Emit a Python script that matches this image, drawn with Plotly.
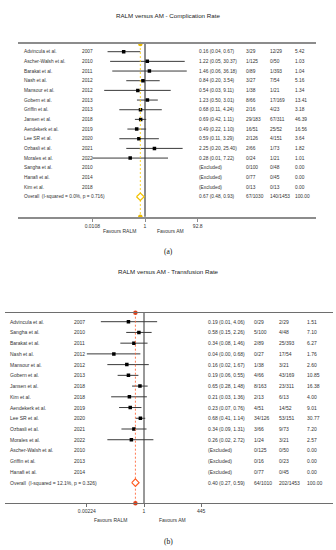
import math
import plotly.graph_objects as go

W, H = 336, 550

# ---------------- Panel (a): Complication rate ----------------
a_title = "RALM versus AM - Complication Rate"
a_study = ["Advincula et al.", "Ascher-Walsh et al.", "Barakat et al.", "Nash et al.",
           "Mansour et al.", "Gobern et al.", "Griffin et al.", "Jansen et al.",
           "Aendekerk et al.", "Lee SR et al.", "Ozbasli et al.", "Morales et al.",
           "Sangha et al.", "Hanafi et al.", "Kim et al."]
a_year = ["2007", "2010", "2011", "2012", "2012", "2013", "2013", "2018",
          "2019", "2020", "2021", "2022", "2010", "2014", "2018"]
a_or = [0.16, 1.22, 1.46, 0.84, 0.54, 1.23, 0.68, 0.69, 0.49, 0.59, 2.25, 0.28, None, None, None]
a_lo = [0.04, 0.05, 0.06, 0.20, 0.03, 0.50, 0.11, 0.42, 0.22, 0.11, 0.20, 0.0108, None, None, None]
a_hi = [0.67, 30.37, 36.18, 3.54, 9.11, 3.01, 4.24, 1.11, 1.10, 3.29, 25.40, 7.22, None, None, None]
a_ev_ralm = ["3/29", "1/125", "0/89", "3/27", "1/38", "8/66", "2/16", "29/183",
             "16/51", "2/126", "2/66", "0/24", "0/100", "0/77", "0/13"]
a_ev_am = ["12/29", "0/50", "1/393", "7/54", "1/21", "17/169", "4/23", "67/311",
           "25/52", "4/151", "1/73", "1/21", "0/48", "0/45", "0/13"]
a_weight = [5.42, 1.03, 1.04, 5.16, 1.34, 13.41, 3.18, 46.39, 16.56, 3.64, 1.82, 1.01, 0.00, 0.00, 0.00]
a_ov_label = "Overall  (I-squared = 0.0%, p = 0.716)"
a_ov_or, a_ov_lo, a_ov_hi = 0.67, 0.48, 0.93
a_ov_ev_ralm, a_ov_ev_am, a_ov_weight = "67/1030", "140/1453", 100.00
a_tickvals = [0.0108, 1, 92.8]
a_ticktext = ["0.0108", "1", "92.8"]

# ---------------- Panel (b): Transfusion rate ----------------
b_title = "RALM versus AM - Transfusion Rate"
b_study = ["Advincula et al.", "Sangha et al.", "Barakat et al.", "Nash et al.",
           "Mansour et al.", "Gobern et al.", "Jansen et al.", "Kim et al.",
           "Aendekerk et al.", "Lee SR et al.", "Ozbasli et al.", "Morales et al.",
           "Ascher-Walsh et al.", "Griffin et al.", "Hanafi et al."]
b_year = ["2007", "2010", "2011", "2012", "2012", "2013", "2018", "2018",
          "2019", "2020", "2021", "2022", "2010", "2013", "2014"]
b_or = [0.19, 0.58, 0.34, 0.04, 0.16, 0.19, 0.65, 0.21, 0.23, 0.68, 0.34, 0.26, None, None, None]
b_lo = [0.01, 0.15, 0.08, 0.00224, 0.02, 0.06, 0.28, 0.03, 0.07, 0.41, 0.09, 0.02, None, None, None]
b_hi = [4.06, 2.26, 1.46, 0.68, 1.67, 0.55, 1.48, 1.36, 0.76, 1.14, 1.31, 2.72, None, None, None]
b_ev_ralm = ["0/29", "5/100", "2/89", "0/27", "1/38", "4/66", "8/163", "2/13",
             "4/51", "34/126", "3/66", "1/24", "0/125", "0/16", "0/77"]
b_ev_am = ["2/29", "4/48", "25/393", "17/54", "3/21", "43/169", "23/311", "6/13",
           "14/52", "53/151", "9/73", "3/21", "0/50", "0/23", "0/45"]
b_weight = [1.51, 7.10, 6.27, 1.76, 2.60, 10.85, 16.38, 4.00, 9.01, 30.77, 7.20, 2.57, 0.00, 0.00, 0.00]
b_ov_label = "Overall  (I-squared = 12.1%, p = 0.326)"
b_ov_or, b_ov_lo, b_ov_hi = 0.40, 0.27, 0.59
b_ov_ev_ralm, b_ov_ev_am, b_ov_weight = "64/1010", "202/1453", 100.00
b_tickvals = [0.00224, 1, 445]
b_ticktext = ["0.00224", "1", "445"]

NULL_OR = 1

fig = go.Figure()
annotations = []
shapes = []


def build(p, xa, ya, title, study, year, orv, lo, hi, evr, eva, wt,
          ov_label, ov_or, ov_lo, ov_hi, ov_evr, ov_eva, ov_wt, tickvals, ticktext):
    step = p["step"]
    row0 = p["row0"]

    def row(px):
        return (px - row0) / step

    y_top = row(p["top"])
    y_bot = row(p["bot"])
    ppd = (p["hi_px"] - p["lo_px"]) / (math.log10(tickvals[-1]) - math.log10(tickvals[0]))
    xr = [(p["left"] - p["one_px"]) / ppd, (p["right"] - p["one_px"]) / ppd]
    yref = ya
    axis_x = "xaxis" if xa == "x" else "xaxis" + xa[1:]
    axis_y = "yaxis" if ya == "y" else "yaxis" + ya[1:]

    fig.layout[axis_x] = dict(
        type="log", range=xr, domain=[p["left"] / W, p["right"] / W], anchor=ya,
        showline=True, mirror=True, linecolor=p["axcol"], linewidth=p["axw"],
        ticks="outside", ticklen=3, tickwidth=1, tickcolor=p["axcol"],
        tickvals=tickvals, ticktext=ticktext, showgrid=False, zeroline=False,
        tickfont=dict(size=5, color="#333", family="Liberation Sans"), fixedrange=True)
    fig.layout[axis_y] = dict(
        range=[y_bot, y_top], domain=[1 - p["bot"] / H, 1 - p["top"] / H], anchor=xa,
        showticklabels=False, showgrid=False, zeroline=False, showline=False, fixedrange=True)

    # null line
    shapes.append(dict(type="line", xref=xa, yref=ya + " domain", x0=NULL_OR, x1=NULL_OR,
                       y0=0, y1=1, line=dict(color=p["nullcol"], width=p["nullw"]), layer="below"))

    n = len(study)
    # CI lines
    lx, ly = [], []
    for i in range(n):
        if orv[i] is None:
            continue
        lx += [lo[i], hi[i], None]
        ly += [i, i, None]
    fig.add_trace(go.Scatter(x=lx, y=ly, mode="lines", xaxis=xa, yaxis=ya,
                             line=dict(color="#3a3a3a", width=1), hoverinfo="skip",
                             showlegend=False))
    sx = [orv[i] for i in range(n) if orv[i] is not None]
    sy = [i for i in range(n) if orv[i] is not None]
    fig.add_trace(go.Scatter(x=sx, y=sy, mode="markers", xaxis=xa, yaxis=ya,
                             marker=dict(symbol="square", size=3.5, color="black"),
                             hoverinfo="skip", showlegend=False))
    # overall dashed line
    fig.add_trace(go.Scatter(x=[ov_or, ov_or], y=[y_top, y_bot], mode="lines",
                             xaxis=xa, yaxis=ya, cliponaxis=False,
                             line=dict(color=p["ovcol"], width=0.9, dash="2px,2px"),
                             hoverinfo="skip", showlegend=False))
    fig.add_trace(go.Scatter(x=[ov_or, ov_or], y=[y_top, y_bot], mode="markers",
                             xaxis=xa, yaxis=ya, cliponaxis=False,
                             marker=dict(size=4.5, color=p["dotcol"]),
                             hoverinfo="skip", showlegend=False))
    # overall diamond
    r = n
    dh = p["dh"]
    fig.add_trace(go.Scatter(x=[ov_lo, ov_or, ov_hi, ov_or, ov_lo],
                             y=[r, r - dh, r, r + dh, r], mode="lines",
                             xaxis=xa, yaxis=ya, fill="toself", fillcolor="white",
                             line=dict(color=p["diacol"], width=1.2),
                             hoverinfo="skip", showlegend=False))

    cols = p["cols"]
    fs = p["fs"]

    def txt(xpx, yrow, s, size=fs):
        annotations.append(dict(xref="paper", yref=yref, x=xpx / W, y=yrow, text=s,
                                showarrow=False, xanchor="left", yanchor="middle",
                                font=dict(size=size, color="#333", family="Liberation Sans")))

    # header
    h1, h2 = row(p["hdr1"]), row(p["hdr2"])
    txt(cols[0], h2, "Study")
    txt(cols[1], h2, "Year")
    txt(cols[2], h2, "OR (95% CI)")
    txt(cols[3], h1, "Events,")
    txt(cols[3], h2, "RALM")
    txt(cols[4], h1, "Events,")
    txt(cols[4], h2, "AM")
    txt(cols[5], h1, "%")
    txt(cols[5], h2, "Weight")

    for i in range(n):
        txt(cols[0], i, study[i])
        txt(cols[1], i, year[i])
        if orv[i] is None:
            txt(cols[2], i, "(Excluded)")
        else:
            txt(cols[2], i, f"{orv[i]:.2f} ({lo[i]:.2f}, {hi[i]:.2f})")
        txt(cols[3], i, evr[i])
        txt(cols[4], i, eva[i])
        txt(cols[5], i, f"{wt[i]:.2f}")
    txt(cols[0], n, ov_label)
    txt(cols[2], n, f"{ov_or:.2f} ({ov_lo:.2f}, {ov_hi:.2f})")
    txt(cols[3], n, ov_evr)
    txt(cols[4], n, ov_eva)
    txt(cols[5], n, f"{ov_wt:.2f}")

    # title
    annotations.append(dict(xref="paper", yref="paper", x=168 / W, y=1 - p["title"] / H,
                            text=title, showarrow=False, xanchor="center", yanchor="middle",
                            font=dict(size=6.2, color="#222", family="Liberation Sans")))
    # favours labels
    for xpx, s in [(p["fav"][0], "Favours RALM"), (p["fav"][1], "Favours AM")]:
        annotations.append(dict(xref="paper", yref="paper", x=xpx / W, y=1 - p["favy"] / H,
                                text=s, showarrow=False, xanchor="center", yanchor="middle",
                                font=dict(size=5, color="#333", family="Liberation Sans")))
    # panel label
    annotations.append(dict(xref="paper", yref="paper", x=168 / W, y=1 - p["lab"] / H,
                            text=p["labtxt"], showarrow=False, xanchor="center", yanchor="middle",
                            font=dict(size=7.5, color="#111", family="Liberation Serif")))


pa = dict(step=9.67, row0=51.7, top=44, bot=216.7, left=18, right=316,
          one_px=145, lo_px=92.3, hi_px=197.7, axcol="#8c8c8c", axw=1.8,
          nullcol="#8c8c8c", nullw=2, ovcol="#FFD21A", dotcol="#E8B800", diacol="#F2C200",
          dh=0.39, cols=[21.7, 80, 196.7, 243.5, 268.3, 293.3], fs=4.8,
          hdr1=22.7, hdr2=32.3, title=16, fav=[119, 170], favy=231, lab=251.7, labtxt="(a)")
pb = dict(step=10.73, row0=321.7, top=312.7, bot=503.3, left=5, right=333,
          one_px=144, lo_px=86.7, hi_px=201, axcol="#6e6e6e", axw=1.3,
          nullcol="#333333", nullw=1, ovcol="#FF6A3D", dotcol="#E0401A", diacol="#FF5A1F",
          dh=0.35, cols=[8.3, 71.7, 205.7, 251.7, 276.7, 305], fs=5,
          hdr1=286, hdr2=300, title=271, fav=[110, 172], favy=520, lab=541.7, labtxt="(b)")

build(pa, "x", "y", a_title, a_study, a_year, a_or, a_lo, a_hi, a_ev_ralm, a_ev_am, a_weight,
      a_ov_label, a_ov_or, a_ov_lo, a_ov_hi, a_ov_ev_ralm, a_ov_ev_am, a_ov_weight,
      a_tickvals, a_ticktext)
build(pb, "x2", "y2", b_title, b_study, b_year, b_or, b_lo, b_hi, b_ev_ralm, b_ev_am, b_weight,
      b_ov_label, b_ov_or, b_ov_lo, b_ov_hi, b_ov_ev_ralm, b_ov_ev_am, b_ov_weight,
      b_tickvals, b_ticktext)

fig.update_layout(width=W, height=H, margin=dict(l=0, r=0, t=0, b=0),
                  paper_bgcolor="white", plot_bgcolor="white", showlegend=False,
                  annotations=annotations, shapes=shapes, hovermode=False)
fig.write_html("out.html", config={"displayModeBar": False},
               post_script="document.body.style.margin='0';document.body.style.padding='0';"
                           "document.body.style.overflow='hidden';")
